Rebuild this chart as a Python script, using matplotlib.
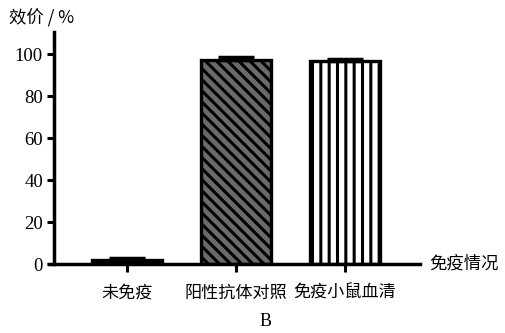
import numpy as np
import matplotlib
matplotlib.use("Agg")
import matplotlib.pyplot as plt

plt.rcParams['font.family'] = ['Liberation Serif', 'Noto Sans CJK SC']
plt.rcParams['hatch.linewidth'] = 2.2

groups = ['未免疫', '阳性抗体对照', '免疫小鼠血清']
values = [2.0, 97.0, 96.5]
errors = [1.0, 1.5, 1.3]
hatches = ['', '\\\\\\', '||']
fills = ['black', '#6a6a6a', 'white']

fig = plt.figure(figsize=(5.05, 3.33), dpi=100)
ax = fig.add_axes([0.107, 0.207, 0.725, 0.697])

x = np.arange(len(groups))
for i in range(len(groups)):
    ax.bar(x[i], values[i], width=0.65, color=fills[i], edgecolor='black',
           linewidth=2.4, hatch=hatches[i], zorder=2)
    ax.errorbar(x[i], values[i], yerr=[[0], [errors[i]]], color='black',
                capsize=13, capthick=2.5, elinewidth=2.5, zorder=3)

ax.set_xlim(-0.67, 2.69)
ax.set_ylim(0, 110.5)
ax.set_yticks([0, 20, 40, 60, 80, 100])
ax.set_xticks(x)
ax.set_xticklabels(groups, fontsize=12.3, family=['Noto Sans CJK SC'])
ax.tick_params(axis='y', labelsize=13.5, width=2.2, length=5, pad=3)
ax.tick_params(axis='x', width=2.2, length=6, pad=8)

for side in ['top', 'right']:
    ax.spines[side].set_visible(False)
for side in ['left', 'bottom']:
    ax.spines[side].set_linewidth(2.5)
ax.spines['bottom'].set_bounds(-0.72, 2.69)

fig.text(0.018, 0.945, '效价 / %', fontsize=12.5, family=['Noto Sans CJK SC', 'DejaVu Sans'],
         va='center', ha='left')
fig.text(0.85, 0.208, '免疫情况', fontsize=12.5, family=['Noto Sans CJK SC'],
         va='center', ha='left')
fig.text(0.525, 0.035, 'B', fontsize=13, va='center', ha='center')

fig.savefig('out.png', dpi=100)
